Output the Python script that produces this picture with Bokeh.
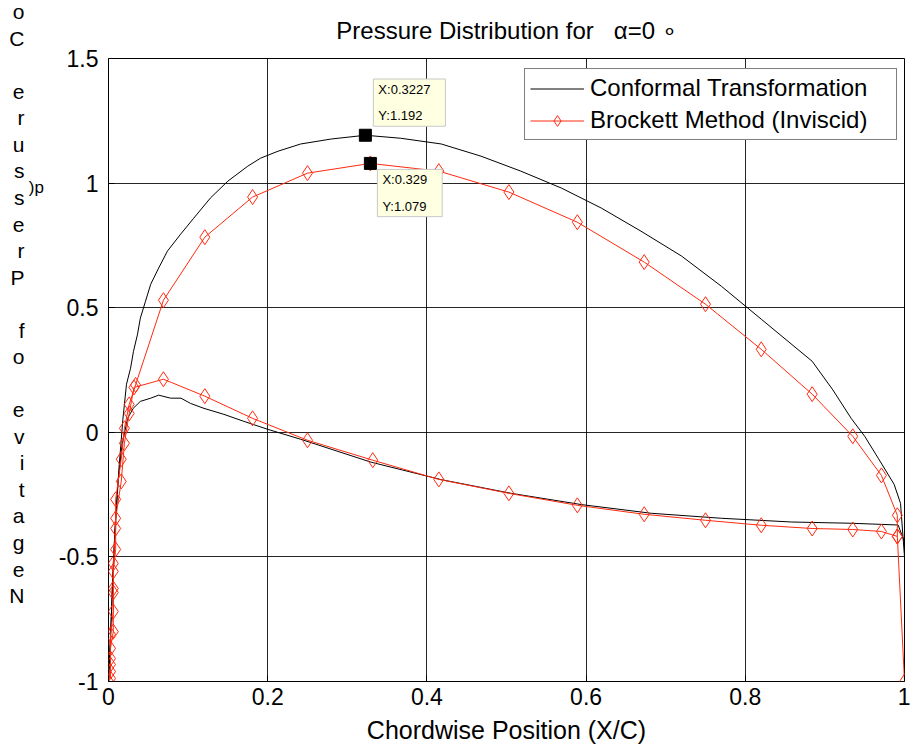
from bokeh.plotting import figure
from bokeh.models import Label, Legend, LegendItem, Range1d, FixedTicker, LinearAxis
from bokeh.embed import file_html
from bokeh.resources import INLINE

# ---------------- data ----------------
# Conformal transformation (black), leading edge -> trailing edge
conf_upper_x = [0.0, 0.004, 0.008, 0.013, 0.018, 0.0226, 0.0277, 0.0314, 0.0365, 0.040, 0.0465,
                0.053, 0.063, 0.074, 0.0906, 0.107, 0.128, 0.150, 0.175, 0.191, 0.213, 0.2415,
                0.28, 0.3227, 0.367, 0.418, 0.468, 0.518, 0.569, 0.619, 0.669, 0.72, 0.77, 0.82,
                0.884, 0.91, 0.933, 0.95, 0.967, 0.987, 0.995, 1.0]
conf_upper_y = [-1.0, -0.7, -0.4, -0.15, 0.05, 0.193, 0.257, 0.325, 0.394, 0.458, 0.526,
                0.594, 0.659, 0.727, 0.795, 0.859, 0.94, 1.008, 1.068, 1.10, 1.128, 1.157,
                1.177, 1.192, 1.18, 1.157, 1.108, 1.048, 0.98, 0.90, 0.807, 0.707, 0.586, 0.454,
                0.285, 0.17, 0.056, -0.016, -0.104, -0.209, -0.285, -0.5]
conf_lower_x = [0.0, 0.003, 0.005, 0.008, 0.012, 0.017, 0.024, 0.031, 0.040, 0.053, 0.063, 0.078,
                0.091, 0.103, 0.12, 0.145, 0.17, 0.2, 0.2415, 0.33, 0.418, 0.506, 0.594, 0.682,
                0.77, 0.858, 0.933, 0.992, 1.0, 1.0]
conf_lower_y = [-1.0, -0.8, -0.6, -0.4, -0.2, -0.05, 0.056, 0.096, 0.124, 0.137, 0.149, 0.137,
                0.137, 0.116, 0.096, 0.072, 0.044, 0.012, -0.028, -0.12, -0.19, -0.245, -0.29,
                -0.325, -0.345, -0.36, -0.365, -0.372, -0.44, -0.5]

# Brockett method (red diamonds), leading edge -> trailing edge
brock_upper_x = [0.0, 0.0025, 0.0025, 0.0025, 0.006, 0.006, 0.006, 0.009, 0.009, 0.016, 0.020,
                 0.026, 0.034, 0.069, 0.121, 0.181, 0.25, 0.329, 0.415, 0.503, 0.589, 0.673,
                 0.75, 0.82, 0.884, 0.935, 0.971, 0.991]
brock_upper_y = [-1.0, -0.96, -0.908, -0.811, -0.719, -0.627, -0.526, -0.386, -0.269, -0.108, 0.016,
                 0.112, 0.19, 0.53, 0.783, 0.944, 1.04, 1.079, 1.048, 0.964, 0.843, 0.683,
                 0.514, 0.333, 0.153, -0.016, -0.173, -0.333]
brock_lower_x = [0.0, 0.0025, 0.0025, 0.0025, 0.006, 0.006, 0.006, 0.009, 0.009, 0.016, 0.020,
                 0.026, 0.032, 0.069, 0.121, 0.181, 0.25, 0.332, 0.415, 0.503, 0.589, 0.673,
                 0.75, 0.82, 0.884, 0.935, 0.971, 0.991]
brock_lower_y = [-1.0, -0.988, -0.932, -0.867, -0.8, -0.643, -0.558, -0.47, -0.345, -0.197, -0.044,
                 0.076, 0.18, 0.213, 0.145, 0.056, -0.032, -0.112, -0.189, -0.245, -0.293, -0.329,
                 -0.353, -0.373, -0.386, -0.39, -0.398, -0.418]
brock_te_x = [1.0]
brock_te_y = [-1.0]

# data tips
tip_x = [0.3227, 0.329]
tip_y = [1.192, 1.079]

x_ticks = [0, 0.2, 0.4, 0.6, 0.8, 1]
y_ticks = [-1, -0.5, 0, 0.5, 1, 1.5]

NB = "\u00a0"
title_text = "Pressure Distribution for" + NB * 3 + "\u03b1=0" + NB + "\u2218"
xlabel_text = "Chordwise Position (X/C)"
# y-label as rendered in the original (characters stacked top to bottom)
ylabel_lines = ["o", "C", "", "e", "r", "u", "s", "s", "e", "r", "P", "", "f", "o",
                "", "e", "v", "i", "t", "a", "g", "e", "N"]
ylabel_sub = ")p"
legend_labels = ["Conformal Transformation", "Brockett Method (Inviscid)"]

# ---------------- figure ----------------
W, H = 910, 750
FONT = "Liberation Sans"
RED = "#ff2a10"

p = figure(width=W, height=H, output_backend="svg", toolbar_location=None,
           x_range=Range1d(0, 1), y_range=Range1d(-1, 1.5),
           min_border_left=108, min_border_right=6, min_border_top=58, min_border_bottom=69)
p.background_fill_color = "white"
p.border_fill_color = "white"
p.outline_line_color = "black"
p.outline_line_width = 1

p.title.text = title_text
p.title.align = "center"
p.title.text_font = FONT
p.title.text_font_size = "24px"
p.title.text_font_style = "normal"
p.title.text_color = "black"
p.title.standoff = 29

for ax in (p.xaxis[0], p.yaxis[0]):
    ax.axis_line_color = None
    ax.major_tick_in = 6
    ax.major_tick_out = 0
    ax.minor_tick_line_color = None
    ax.major_tick_line_color = "black"
    ax.major_label_text_font = FONT
    ax.major_label_text_font_size = "23px"
    ax.major_label_text_color = "black"
p.xaxis.ticker = FixedTicker(ticks=x_ticks)
p.yaxis.ticker = FixedTicker(ticks=y_ticks)
p.xaxis.major_label_overrides = {t: ("%g" % t) for t in x_ticks}
p.yaxis.major_label_overrides = {t: ("%g" % t) for t in y_ticks}
p.xaxis.major_label_standoff = 6
p.yaxis.major_label_standoff = 10

p.xaxis.axis_label = xlabel_text
p.xaxis.axis_label_text_font = FONT
p.xaxis.axis_label_text_font_size = "25px"
p.xaxis.axis_label_text_font_style = "normal"
p.xaxis.axis_label_text_color = "black"
p.xaxis.axis_label_standoff = 8

# inner y-axis label: the stray ")p" fragment, lifted with trailing blank lines
yax = p.yaxis[0]
yax.axis_label = ylabel_sub + "\n" * 16
yax.axis_label_orientation = "horizontal"
yax.axis_label_text_font = FONT
yax.axis_label_text_font_size = "17px"
yax.axis_label_text_font_style = "normal"
yax.axis_label_text_color = "black"
yax.axis_label_standoff = 12

# outer y-axis: only carries the stacked-letter label
outer = LinearAxis(ticker=FixedTicker(ticks=[]), axis_line_color=None,
                   major_tick_line_color=None, minor_tick_line_color=None,
                   major_label_text_font_size="0px",
                   axis_label="\n".join(ylabel_lines) + "\n" * 5,
                   axis_label_orientation="horizontal",
                   axis_label_text_font=FONT, axis_label_text_font_size="21px",
                   axis_label_text_font_style="normal", axis_label_text_color="black",
                   axis_label_text_line_height=1.154, axis_label_standoff=1)
p.add_layout(outer, "left")

p.xgrid.ticker = FixedTicker(ticks=x_ticks)
p.ygrid.ticker = FixedTicker(ticks=y_ticks)
for g in (p.xgrid[0], p.ygrid[0]):
    g.grid_line_color = "black"
    g.grid_line_width = 1
    g.grid_line_alpha = 0.85

# black curves
conf_x = conf_upper_x[::-1] + conf_lower_x[1:]
conf_y = conf_upper_y[::-1] + conf_lower_y[1:]
r_conf = p.line(conf_x, conf_y, line_color="black", line_width=1)

# red path: TE point -> lower TE -> upper TE ... LE ... lower -> lower TE
bx = brock_te_x + [brock_lower_x[-1]] + brock_upper_x[::-1] + brock_lower_x[1:]
by = brock_te_y + [brock_lower_y[-1]] + brock_upper_y[::-1] + brock_lower_y[1:]
r_bl = p.line(bx, by, line_color=RED, line_width=1)
r_bs = p.scatter(bx, by, marker="diamond", size=15, fill_color=None,
                 line_color=RED, line_width=1)

# data tip markers
p.scatter(tip_x, tip_y, marker="square", size=12, fill_color="black", line_color="black")

legend = Legend(items=[LegendItem(label=legend_labels[0], renderers=[r_conf]),
                       LegendItem(label=legend_labels[1], renderers=[r_bl, r_bs])],
                location=(416, 541))
legend.label_text_font = FONT
legend.label_text_font_size = "24px"
legend.label_text_color = "black"
legend.glyph_width = 54
legend.glyph_height = 27
legend.label_height = 27
legend.label_width = 301
legend.label_standoff = 6
legend.spacing = 4
legend.padding = 5
legend.margin = 0
legend.border_line_color = "black"
legend.border_line_width = 1
legend.background_fill_color = "white"
legend.background_fill_alpha = 1
p.add_layout(legend, "center")

# data tips
tip_style = dict(text_font=FONT, text_font_size="13px", text_color="black",
                 background_fill_color="#ffffe1", border_line_color="#c8c8c8",
                 text_line_height=1.75, padding=dict(left=5, right=15, top=3, bottom=3))
p.add_layout(Label(x=tip_x[0], y=tip_y[0], x_offset=8, y_offset=9,
                   text="X:%s\nY:%s" % (tip_x[0], tip_y[0]),
                   text_align="left", text_baseline="bottom", **tip_style))
p.add_layout(Label(x=tip_x[1], y=tip_y[1], x_offset=7, y_offset=-6,
                   text="X:%s\nY:%s" % (tip_x[1], tip_y[1]),
                   text_align="left", text_baseline="top", **tip_style))

open("out.html", "w").write(file_html(p, INLINE))
